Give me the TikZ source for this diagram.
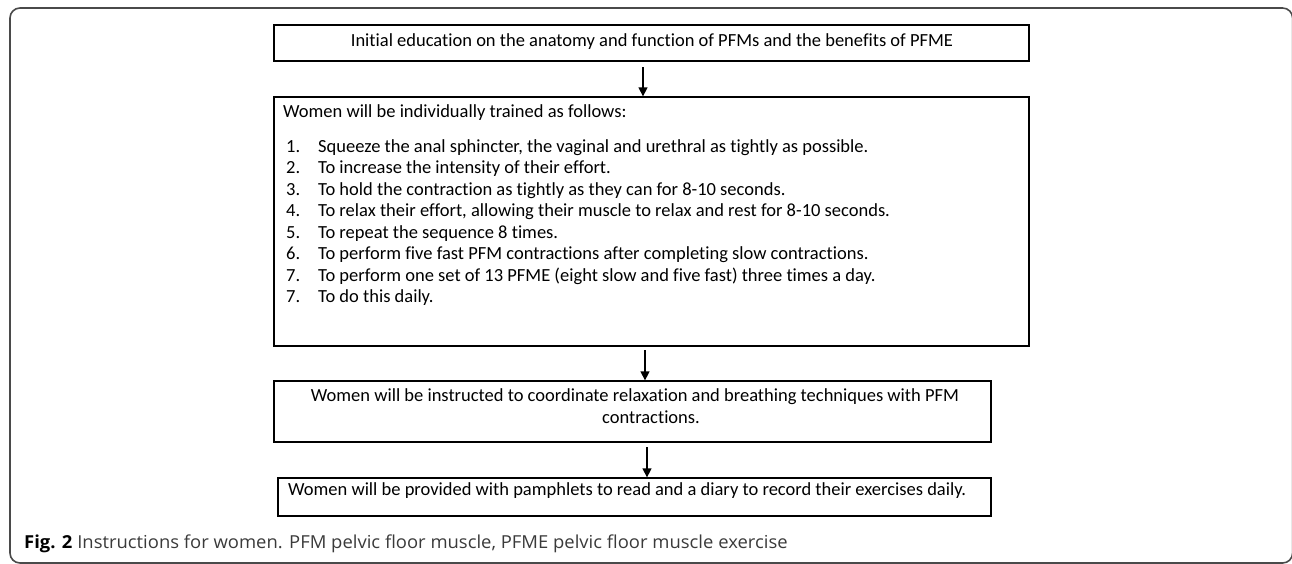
\documentclass[tikz,border=0pt]{standalone}
\usepackage{fontspec}
\setmainfont{Carlito}[Ligatures=NoCommon]
\newfontfamily\capfont[FakeStretch=1.03]{Open Sans}
\usetikzlibrary{arrows.meta}
\definecolor{framegray}{HTML}{4A4A4A}
\definecolor{capgray}{HTML}{3A3A3A}
\tikzset{
  box/.style={draw=black, line width=1.3pt, inner sep=0pt, rectangle},
  txt/.style={inner sep=0pt, font=\fontsize{18.5}{21}\selectfont, text=black},
  arr/.style={draw=black, line width=1.3pt, -{Triangle[length=9pt,width=9pt]}},
}
\begin{document}
\begin{tikzpicture}[x=1pt,y=-1pt]
\useasboundingbox (0,0) rectangle (1292,563);
% outer frame
\draw[framegray, line width=1.6pt, rounded corners=10pt] (10,8) rectangle (1292.6,563);

% boxes
\node[box, minimum width=755pt, minimum height=36pt] (b1) at (651.5,43) {};
\node[box, minimum width=755pt, minimum height=249pt] (b2) at (651.5,221.5) {};
\node[box, minimum width=717pt, minimum height=61pt] (b3) at (632.5,411.5) {};
\node[box, minimum width=713pt, minimum height=38pt] (b4) at (634.5,497) {};

% texts (placed by baseline)
\node[txt, anchor=base] (t1) at (652,46) {Initial education on the anatomy and function of PFMs and the benefits of PFME};
\node[txt, anchor=base west] (t2) at (283,117) {Women will be individually trained as follows:};
\foreach \n/\y/\s in {
 1/152/{Squeeze the anal sphincter, the vaginal and urethral as tightly as possible.},
 2/173.5/{To increase the intensity of their effort.},
 3/195/{To hold the contraction as tightly as they can for 8-10 seconds.},
 4/216.5/{To relax their effort, allowing their muscle to relax and rest for 8-10 seconds.},
 5/238/{To repeat the sequence 8 times.},
 6/259.5/{To perform five fast PFM contractions after completing slow contractions.},
 7/281/{To perform one set of 13 PFME (eight slow and five fast) three times a day.},
 8/302.5/{To do this daily.}}{
  \node[txt, anchor=base west] (n\n) at (286,\y) {\ifnum\n=8 7.\else\n.\fi};
  \node[txt, anchor=base west] (i\n) at (318,\y) {\s};
}
\node[txt, anchor=base] (t3a) at (635,401) {Women will be instructed to coordinate relaxation and breathing techniques with PFM};
\node[txt, anchor=base] (t3b) at (651,423) {contractions.};
\node[txt, anchor=base west] (t4) at (288,495) {Women will be provided with pamphlets to read and a diary to record their exercises daily.};

% arrows
\coordinate (a1) at (643,67);
\coordinate (a2) at (645,350);
\coordinate (a3) at (647,447);
\draw[arr] (a1) -- (a1 |- b2.north);
\draw[arr] (a2) -- (a2 |- b3.north);
\draw[arr] (a3) -- (a3 |- b4.north);

% caption
\node[inner sep=0pt, anchor=base west, font=\capfont\fontsize{17.9}{20}\selectfont, text=capgray] (cap) at (24,548)
  {\textcolor{black}{\bfseries Fig. 2} Instructions for women. PFM pelvic floor muscle, PFME pelvic floor muscle exercise};
\end{tikzpicture}
\end{document}
